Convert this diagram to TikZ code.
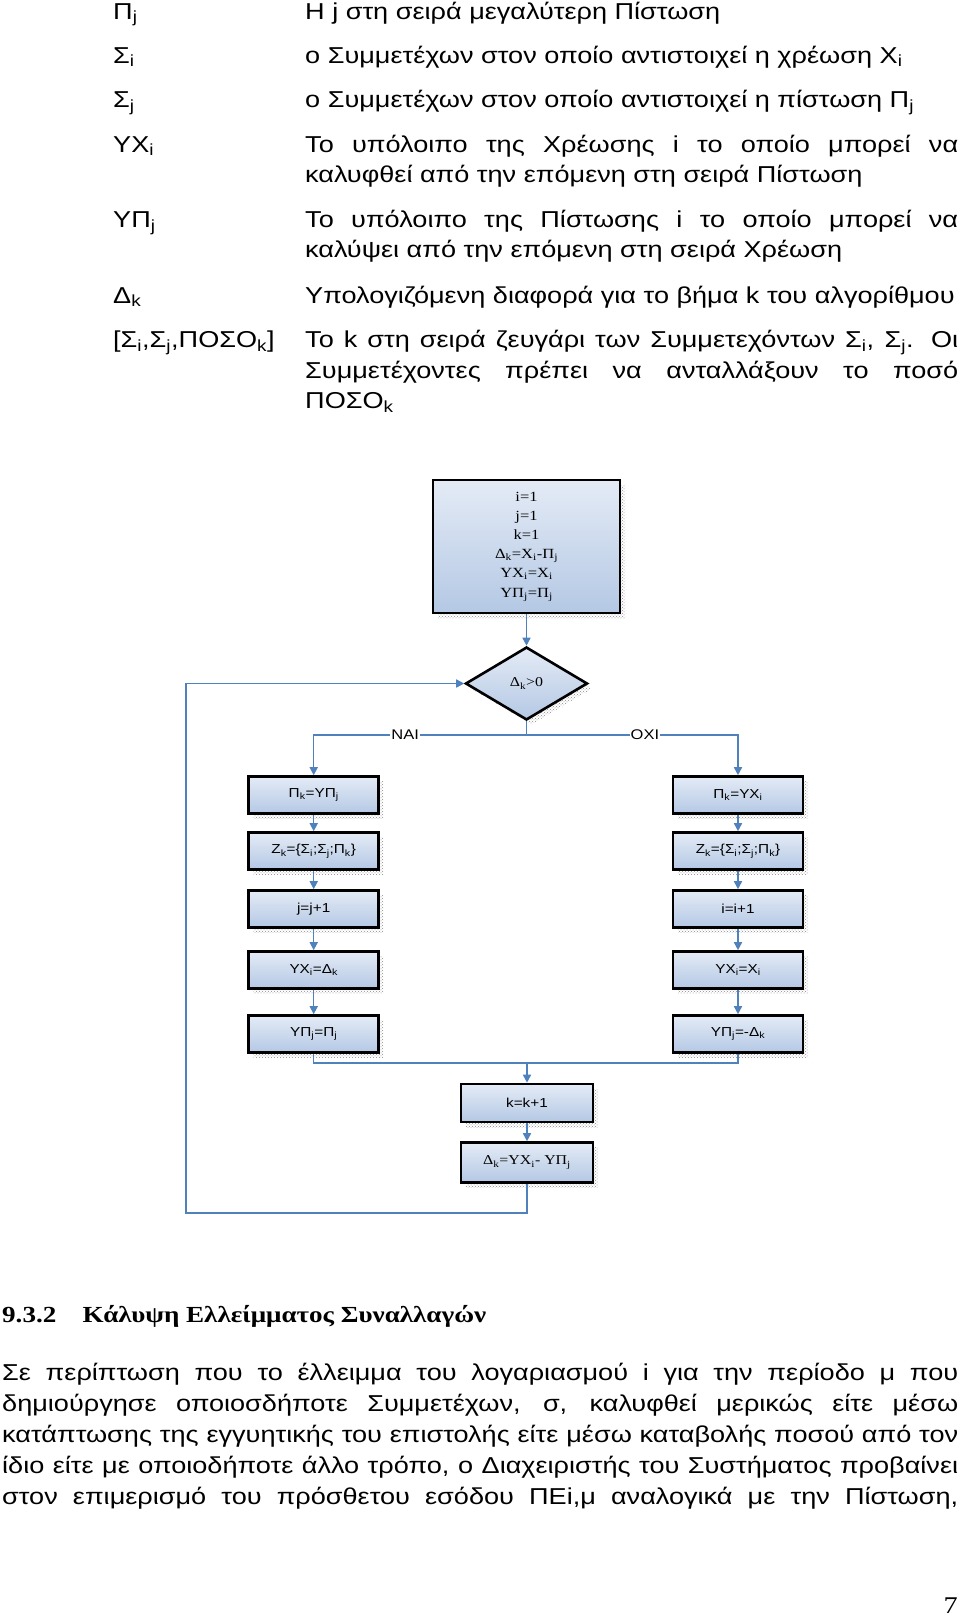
\documentclass[tikz,border=0pt]{standalone}
\usepackage{fontspec}
\setmainfont{Liberation Sans}[FakeStretch=1.178]
\newfontfamily\serif{Liberation Serif}[FakeStretch=1.178]
\usetikzlibrary{shadows,patterns,arrows.meta,shapes.geometric}
\definecolor{flow}{RGB}{79,129,189}
\definecolor{btop}{RGB}{228,235,246}
\definecolor{bbot}{RGB}{180,200,228}
\newcommand\sbs[1]{\textsubscript{#1}}
\newcommand\J[2]{\makebox[#1][s]{#2}}
\begin{document}
\begin{tikzpicture}[x=1pt,y=-1pt,
  txt/.style={anchor=base west, inner sep=0pt, font=\fontsize{23}{27}\selectfont},
  shad/.style={drop shadow={shadow xshift=5pt, shadow yshift=-5pt, opacity=1, pattern=crosshatch dots, pattern color=gray!90}},
  box/.style={draw=black, line width=2.6pt, top color=btop, bottom color=bbot, minimum width=130pt, minimum height=37pt, inner sep=0pt, font=\fontsize{13}{15}\selectfont, shad},
  sbox/.style={box, font=\serif\fontsize{13.5}{15}\selectfont},
  flowline/.style={draw=flow, line width=1.5pt},
  arr/.style={flowline, -{Triangle[width=8pt,length=8pt]}, color=flow},
  lbl/.style={fill=white, text=black, inner sep=1pt, font=\fontsize{14}{16}\selectfont}]
\useasboundingbox (0,0) rectangle (960,1617);
\fill[white] (0,0) rectangle (960,1617);

% definitions
\node[txt] (a1) at (113,19) {Π\sbs{j}};
\node[txt] (b1) at (305,19) {Η j στη σειρά μεγαλύτερη Πίστωση};
\node[txt] (a2) at (113,63) {Σ\sbs{i}};
\node[txt] (b2) at (305,63) {ο Συμμετέχων στον οποίο αντιστοιχεί η χρέωση Χ\sbs{i}};
\node[txt] (a3) at (113,107.5) {Σ\sbs{j}};
\node[txt] (b3) at (305,107.5) {ο Συμμετέχων στον οποίο αντιστοιχεί η πίστωση Π\sbs{j}};
\node[txt] (a4) at (113,152) {ΥΧ\sbs{i}};
\node[txt] (b4) at (305,152) {\J{653pt}{Το υπόλοιπο της Χρέωσης i το οποίο μπορεί να}};
\node[txt] (b4b) at (305,182) {καλυφθεί από την επόμενη στη σειρά Πίστωση};
\node[txt] (a5) at (113,227.5) {ΥΠ\sbs{j}};
\node[txt] (b5) at (305,227.5) {\J{653pt}{Το υπόλοιπο της Πίστωσης i το οποίο μπορεί να}};
\node[txt] (b5b) at (305,257.5) {καλύψει από την επόμενη στη σειρά Χρέωση};
\node[txt] (a6) at (113,303) {Δ\sbs{k}};
\node[txt] (b6) at (305,303) {Υπολογιζόμενη διαφορά για το βήμα k του αλγορίθμου};
\node[txt] (a7) at (113,347.5) {[Σ\sbs{i},Σ\sbs{j},ΠΟΣΟ\sbs{k}]};
\node[txt] (b7) at (305,347.5) {\J{653pt}{Το k στη σειρά ζευγάρι των Συμμετεχόντων Σ\sbs{i}, Σ\sbs{j}. Οι}};
\node[txt] (b7b) at (305,378) {\J{653pt}{Συμμετέχοντες πρέπει να ανταλλάξουν το ποσό}};
\node[txt] (b7c) at (305,408.5) {ΠΟΣΟ\sbs{k}};

% flowchart
\node[sbox, minimum width=187pt, minimum height=133pt, align=center, font=\serif\fontsize{14}{19.2}\selectfont] (top) at (526.5,546.5)
  {i=1\\ j=1\\ k=1\\ Δ\sbs{k}=X\sbs{i}-Π\sbs{j}\\ YX\sbs{i}=X\sbs{i}\\ YΠ\sbs{j}=Π\sbs{j}};
\node[sbox, shape=diamond, minimum width=122pt, minimum height=73pt] (dia) at (526.5,683.5) {Δ\sbs{k}>0};

\node[box] (L1) at (313.7,795) {Π\sbs{k}=YΠ\sbs{j}};
\node[box] (L2) at (313.7,851) {Z\sbs{k}=\{Σ\sbs{i};Σ\sbs{j};Π\sbs{k}\}};
\node[box] (L3) at (313.7,909) {j=j+1};
\node[box] (L4) at (313.7,970) {YX\sbs{i}=Δ\sbs{k}};
\node[box] (L5) at (313.7,1034) {YΠ\sbs{j}=Π\sbs{j}};

\node[box] (R1) at (738,795) {Π\sbs{k}=YX\sbs{i}};
\node[box] (R2) at (738,851) {Z\sbs{k}=\{Σ\sbs{i};Σ\sbs{j};Π\sbs{k}\}};
\node[box] (R3) at (738,909) {i=i+1};
\node[box] (R4) at (738,970) {YX\sbs{i}=X\sbs{i}};
\node[box] (R5) at (738,1034) {YΠ\sbs{j}=-Δ\sbs{k}};

\node[box, minimum width=132pt, minimum height=38pt] (K) at (527,1103) {k=k+1};
\node[sbox, minimum width=132pt, minimum height=40pt] (D) at (527,1162.5) {Δ\sbs{k}=YX\sbs{i}- YΠ\sbs{j}};

\coordinate (yna) at (0,735);
\coordinate (mrg) at (527,1063);
\coordinate (lp) at (186,1213);

\draw[arr] (top.south) -- (dia.north);
\draw[flowline] (dia.south) -- (dia.south |- yna);
\draw[arr] (dia.south |- yna) -| node[lbl, pos=0.285] {NAI} (L1.north);
\draw[arr] (dia.south |- yna) -| node[lbl, pos=0.28] {OXI} (R1.north);
\draw[arr] (L1) -- (L2);
\draw[arr] (L2) -- (L3);
\draw[arr] (L3) -- (L4);
\draw[arr] (L4) -- (L5);
\draw[arr] (R1) -- (R2);
\draw[arr] (R2) -- (R3);
\draw[arr] (R3) -- (R4);
\draw[arr] (R4) -- (R5);
\draw[flowline] (L5.south) |- (mrg);
\draw[flowline] (R5.south) |- (mrg);
\draw[arr] (mrg) -- (K.north);
\draw[arr] (K) -- (D);
\draw[arr] (D.south) |- (lp) |- (dia.west);

% section
\node[anchor=base west, inner sep=0pt, font=\serif\bfseries\fontsize{23}{27}\selectfont] (h1) at (2,1322.5) {9.3.2};
\node[anchor=base west, inner sep=0pt, font=\serif\bfseries\fontsize{23}{27}\selectfont] (h2) at (82.5,1322.5) {Κάλυψη Ελλείμματος Συναλλαγών};

\node[txt] (p1) at (2,1380.7) {\J{956pt}{Σε περίπτωση που το έλλειμμα του λογαριασμού i για την περίοδο μ που}};
\node[txt] (p2) at (2,1411.7) {\J{956pt}{δημιούργησε οποιοσδήποτε Συμμετέχων, σ, καλυφθεί μερικώς είτε μέσω}};
\node[txt] (p3) at (2,1442.5) {\J{956pt}{κατάπτωσης της εγγυητικής του επιστολής είτε μέσω καταβολής ποσού από τον}};
\node[txt] (p4) at (2,1473.5) {\J{956pt}{ίδιο είτε με οποιοδήποτε άλλο τρόπο, ο Διαχειριστής του Συστήματος προβαίνει}};
\node[txt] (p5) at (2,1504.4) {\J{956pt}{στον επιμερισμό του πρόσθετου εσόδου ΠΕi,μ αναλογικά με την Πίστωση,}};

\node[anchor=base, inner sep=0pt, font=\serif\fontsize{24}{28}\selectfont] (pg) at (950.7,1613) {7};
\end{tikzpicture}
\end{document}
